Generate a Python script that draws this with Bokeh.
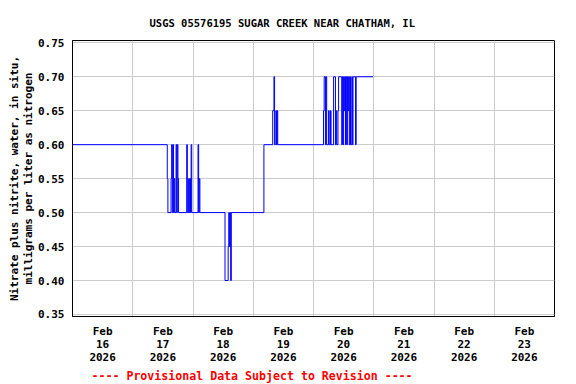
from bokeh.plotting import figure
from bokeh.models import FixedTicker, Range1d, Title
from bokeh.embed import file_html
from bokeh.resources import INLINE

# hours since 2026-02-16 00:00 at which the reading changes
hours = [0, 37.75, 38.0, 39.25, 39.5, 39.75, 40.0, 40.25, 40.5, 40.75,
         41.25, 41.5, 41.75, 42.0, 42.25, 45.5, 45.75, 46.25, 46.5, 46.75,
         47.0, 47.25, 47.5, 50.0, 50.25, 50.5, 50.75, 60.75, 62.0, 62.25,
         62.5, 62.75, 63.0, 63.25, 76.25, 79.75, 80.25, 80.5, 81.0, 81.25,
         81.5, 81.75, 100.0, 100.25, 100.75, 101.0, 101.25, 102.0, 102.25, 102.75,
         103.0, 104.0, 104.75, 105.0, 105.25, 105.75, 106.0, 107.25, 107.5, 107.75,
         108.0, 108.25, 108.5, 108.75, 109.0, 109.25, 109.5, 109.75, 110.0, 110.25,
         110.5, 110.75, 111.25, 111.5, 111.75, 112.75, 113.0, 119.75]
values = [0.60, 0.55, 0.50, 0.55, 0.60, 0.50, 0.60, 0.50, 0.55, 0.50,
          0.60, 0.50, 0.60, 0.55, 0.50, 0.60, 0.50, 0.55, 0.50, 0.55,
          0.50, 0.60, 0.50, 0.60, 0.50, 0.55, 0.50, 0.40, 0.45, 0.50,
          0.45, 0.50, 0.40, 0.50, 0.60, 0.65, 0.70, 0.60, 0.65, 0.60,
          0.65, 0.60, 0.65, 0.70, 0.60, 0.70, 0.60, 0.65, 0.60, 0.65,
          0.60, 0.70, 0.60, 0.65, 0.60, 0.65, 0.70, 0.60, 0.70, 0.60,
          0.70, 0.65, 0.70, 0.60, 0.70, 0.60, 0.70, 0.65, 0.70, 0.60,
          0.70, 0.60, 0.70, 0.60, 0.70, 0.60, 0.70, 0.70]

day_ticks = [12, 36, 60, 84, 108, 132, 156, 180]
day_labels = ["Feb\n16\n2026", "Feb\n17\n2026", "Feb\n18\n2026", "Feb\n19\n2026",
              "Feb\n20\n2026", "Feb\n21\n2026", "Feb\n22\n2026", "Feb\n23\n2026"]
midnights = [0, 24, 48, 72, 96, 120, 144, 168, 192]
y_ticks = [0.35, 0.40, 0.45, 0.50, 0.55, 0.60, 0.65, 0.70, 0.75]

FONT = "DejaVu Sans Mono"

p = figure(width=576, height=384, output_backend="svg", toolbar_location=None,
           x_range=Range1d(0, 192), y_range=Range1d(0.347, 0.7534),
           min_border_left=72, min_border_right=22, min_border_top=40,
           min_border_bottom=68)

p.step(hours, values, mode="after", line_color="#0000FF", line_width=1)

p.outline_line_color = "black"
p.outline_line_width = 1

p.xaxis.ticker = FixedTicker(ticks=day_ticks)
p.xaxis.major_label_overrides = {t: l for t, l in zip(day_ticks, day_labels)}
p.yaxis.ticker = FixedTicker(ticks=y_ticks)
p.yaxis.major_label_overrides = {t: f"{t:.2f}" for t in y_ticks}

p.xgrid.ticker = FixedTicker(ticks=midnights)
p.ygrid.ticker = FixedTicker(ticks=y_ticks)
for g in (p.xgrid, p.ygrid):
    g.grid_line_color = "#cccccc"
    g.grid_line_width = 1

for ax in (p.xaxis, p.yaxis):
    ax.major_tick_out = 0
    ax.major_tick_in = 0
    ax.minor_tick_out = 0
    ax.minor_tick_in = 0
    ax.axis_line_color = "black"
    ax.major_label_text_font = FONT
    ax.major_label_text_font_style = "bold"
    ax.major_label_text_font_size = "11px"
    ax.major_label_text_color = "black"

p.xaxis.major_label_standoff = 8
p.xaxis.major_label_text_line_height = 1.0
p.yaxis.major_label_standoff = 8

p.yaxis.axis_label = "Nitrate plus nitrite, water, in situ,\nmilligrams per liter as nitrogen"
p.yaxis.axis_label_text_font = FONT
p.yaxis.axis_label_text_font_style = "bold"
p.yaxis.axis_label_text_font_size = "11px"
p.yaxis.axis_label_text_color = "black"
p.yaxis.axis_label_text_line_height = 1.1
p.yaxis.axis_label_standoff = 0

p.title = Title(text="USGS 05576195 SUGAR CREEK NEAR CHATHAM, IL", align="left",
                offset=77, standoff=24, text_font=FONT, text_font_style="bold",
                text_font_size="10.5px", text_color="black")

prov = Title(text="---- Provisional Data Subject to Revision ----", align="left",
             offset=19, standoff=0, text_font=FONT, text_font_style="bold",
             text_font_size="11.6px", text_color="#FF0000")
p.add_layout(prov, "below")

open("out.html", "w").write(file_html(p, INLINE))
